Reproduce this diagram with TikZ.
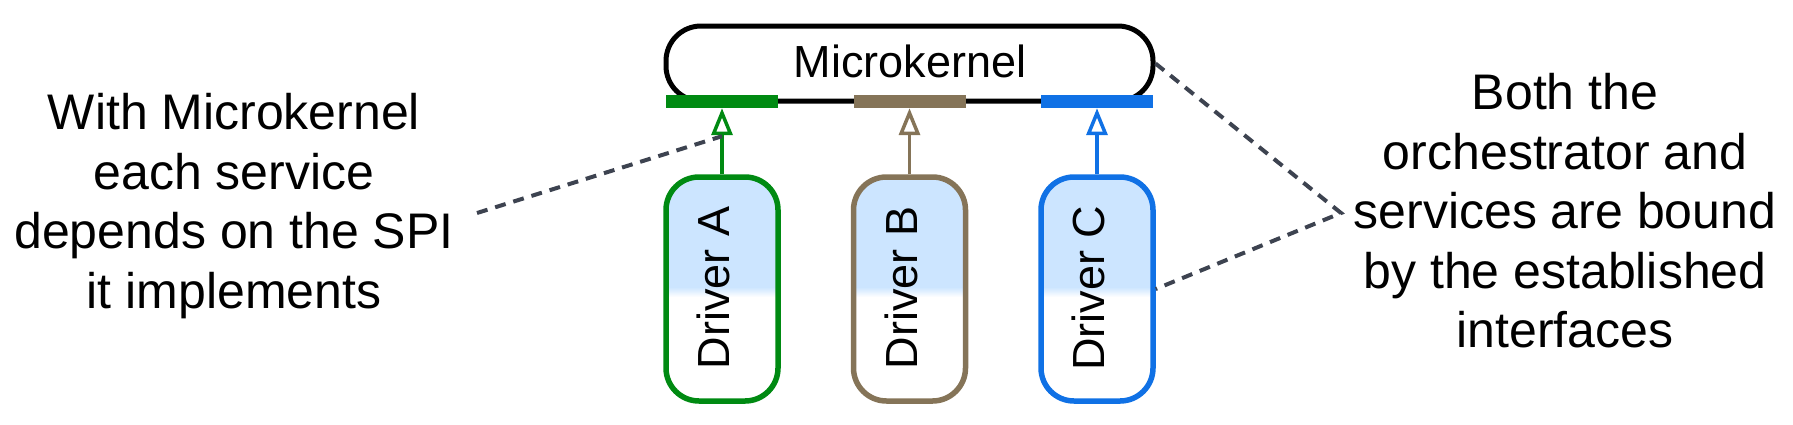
\documentclass[tikz,border=0pt]{standalone}
\usepackage{fontspec}
\setmainfont{Liberation Sans}
\usetikzlibrary{arrows.meta,calc}
\definecolor{cgreen}{HTML}{008A12}
\definecolor{cbrown}{HTML}{857458}
\definecolor{cblue}{HTML}{1071E5}
\definecolor{fillblue}{HTML}{CCE5FF}
\definecolor{cdash}{HTML}{3D4350}
\begin{document}
\begin{tikzpicture}[x=1pt,y=-1pt,
  kernel/.style={draw=black,line width=5pt,rounded corners=35pt,minimum width=487pt,minimum height=75pt,inner sep=0pt},
  spi/.style={fill=#1,draw=none,minimum width=112pt,minimum height=13pt,inner sep=0pt},
  driver/.style={draw=#1,line width=5.5pt,rounded corners=33pt,minimum width=112pt,minimum height=224pt,inner sep=0pt,
     path picture={\fill[fillblue,sharp corners] (path picture bounding box.north west) rectangle ([yshift=2pt]path picture bounding box.east);
       \shade[sharp corners,top color=fillblue,bottom color=white] ([yshift=2pt]path picture bounding box.west) rectangle ([yshift=-8pt]path picture bounding box.east);}},
  dtext/.style={rotate=90,anchor=base,inner sep=0pt,font=\fontsize{45}{54}\selectfont},
  ktext/.style={anchor=base,inner sep=0pt,font=\fontsize{45}{54}\selectfont},
  impl/.style={draw=#1,line width=3.5pt,-{Triangle[open,length=27pt,width=21pt]}},
  note/.style={align=center,inner sep=0pt,anchor=north,font=\fontsize{50}{59.5}\selectfont},
  dashline/.style={draw=cdash,line width=4pt,dash pattern=on 11pt off 8pt}
]
\useasboundingbox (0,0) rectangle (1793,424);

% microkernel
\node[kernel] (mk) at (909.5,63.5) {};
\node[ktext] (mklbl) at (910,77) {Microkernel};
\node[spi=cgreen] (barA) at (722,101.5) {};
\node[spi=cbrown] (barB) at (909.5,101.5) {};
\node[spi=cblue] (barC) at (1097,101.5) {};

% drivers
\node[driver=cgreen] (drvA) at (722,289) {};
\node[driver=cbrown] (drvB) at (909.5,289) {};
\node[driver=cblue] (drvC) at (1097,289) {};
\node[dtext] (tA) at ([xshift=7.5pt,yshift=1pt]drvA.center) {Driver A};
\node[dtext] (tB) at ([xshift=7.5pt,yshift=1pt]drvB.center) {Driver B};
\node[dtext] (tC) at ([xshift=7.5pt,yshift=1pt]drvC.center) {Driver C};

% implements arrows
\draw[impl=cgreen] (drvA.north) -- (barA.south);
\draw[impl=cbrown] (drvB.north) -- (barB.south);
\draw[impl=cblue] (drvC.north) -- (barC.south);

% notes
\node[note] (lnote) at (234,93.5) {With Microkernel\\each service\\depends on the SPI\\it implements};
\node[note] (rnote) at (1565,73.5) {Both the\\orchestrator and\\services are bound\\by the established\\interfaces};

% dashed callouts
\coordinate (lstart) at (477,213);
\coordinate (aend) at ($(barA.south)+(0,28)$);
\draw[dashline] (lstart) -- (aend);
\coordinate (rv) at (1341,213);
\draw[dashline] (mk.east) -- (rv) -- (drvC.east);
\end{tikzpicture}
\end{document}
